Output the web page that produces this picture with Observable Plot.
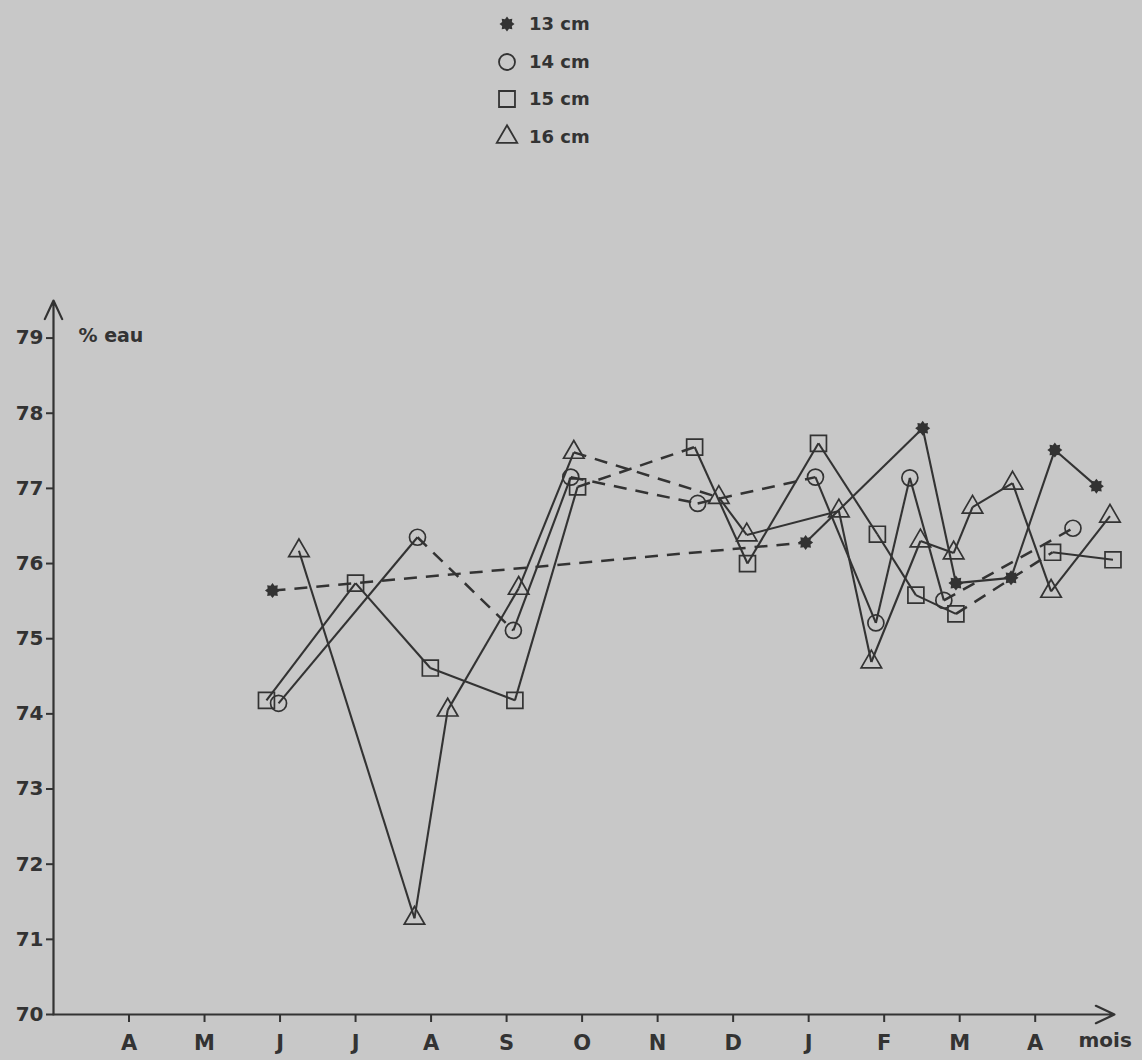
<!DOCTYPE html>
<html>
<head>
<meta charset="utf-8">
<script src="https://cdn.jsdelivr.net/npm/d3@7"></script>
<script src="https://cdn.jsdelivr.net/npm/@observablehq/plot@0.6"></script>
<style>
  html, body { margin: 0; padding: 0; background: #c8c8c8; }
  #wrap { width: 1142px; height: 1060px; background: #c8c8c8; overflow: hidden; }
  svg { display: block; }
</style>
</head>
<body>
<div id="wrap"></div>
<script>
// ---- data ----
const seriesNames = ["13 cm", "14 cm", "15 cm", "16 cm"];
const monthLabels = ["A", "M", "J", "J", "A", "S", "O", "N", "D", "J", "F", "M", "A"];
const monthTicks = [1, 2, 3, 4, 5, 6, 7, 8, 9, 10, 11, 12, 13];
const yTicks = [70, 71, 72, 73, 74, 75, 76, 77, 78, 79];

// month position (0 = origin of axis, 1 = first "A") and % water
const m13 = [2.90, 9.96, 11.51, 11.95, 12.68, 13.26, 13.81];
const v13 = [75.64, 76.28, 77.80, 75.74, 75.81, 77.51, 77.03];
const dash13 = [0];

const m14 = [2.98, 4.82, 6.09, 6.85, 8.53, 10.09, 10.89, 11.34, 11.79, 13.50];
const v14 = [74.14, 76.35, 75.11, 77.15, 76.80, 77.15, 75.21, 77.14, 75.51, 76.47];
const dash14 = [1, 3, 4, 8];

const m15 = [2.82, 4.00, 4.99, 6.11, 6.94, 8.49, 9.19, 10.13, 10.91, 11.42, 11.95, 13.23, 14.03];
const v15 = [74.18, 75.74, 74.61, 74.18, 77.02, 77.55, 76.00, 77.60, 76.39, 75.58, 75.33, 76.15, 76.05];
const dash15 = [4, 10];

const m16 = [3.25, 4.78, 5.22, 6.16, 6.89, 8.81, 9.18, 10.40, 10.83, 11.48, 11.92, 12.17, 12.70, 13.21, 13.99];
const v16 = [76.17, 71.28, 74.05, 75.67, 77.48, 76.88, 76.38, 76.70, 74.69, 76.30, 76.14, 76.75, 77.07, 75.63, 76.63];
const dash16 = [4];

const xDomain = [0, 14.05];
const yDomain = [70, 79.5];

// ---- styles ----
const ink = "#333333";
const font = "'DejaVu Sans', sans-serif";
const fontWeight = "bold";

// filled 8-point star ("asterisk" blob)
const starBlob = {
  draw(ctx, size) {
    const R = Math.sqrt(size / Math.PI);
    const r = R * 0.7;
    const n = 8;
    for (let i = 0; i < 2 * n; i++) {
      const a = (i * Math.PI) / n - Math.PI / 2;
      const rr = i % 2 === 0 ? R : r;
      const px = rr * Math.cos(a), py = rr * Math.sin(a);
      if (i === 0) ctx.moveTo(px, py); else ctx.lineTo(px, py);
    }
    ctx.closePath();
  }
};

const raw = [
  {name: seriesNames[0], m: m13, v: v13, dash: dash13, symbol: starBlob, r: 7.5, fill: ink, stroke: "none"},
  {name: seriesNames[1], m: m14, v: v14, dash: dash14, symbol: "circle", r: 8, fill: "none", stroke: ink},
  {name: seriesNames[2], m: m15, v: v15, dash: dash15, symbol: "square", r: 9, fill: "none", stroke: ink},
  {name: seriesNames[3], m: m16, v: v16, dash: dash16, symbol: "triangle", r: 7.6, fill: "none", stroke: ink}
];

const segments = [];
for (const s of raw) {
  for (let i = 0; i < s.m.length - 1; i++) {
    segments.push({series: s.name, x1: s.m[i], y1: s.v[i], x2: s.m[i + 1], y2: s.v[i + 1], dashed: s.dash.includes(i)});
  }
}
const pointsOf = s => s.m.map((m, i) => ({series: s.name, x: m, y: s.v[i]}));

// ---- legend (SVG above the plot) ----
const legendH = 160;
const legend = d3.create("svg").attr("width", 1142).attr("height", legendH);
const legendRowsY = [24, 62, 99, 137];
raw.forEach((s, i) => {
  const g = legend.append("g").attr("transform", `translate(507,${legendRowsY[i]})`);
  const sym = typeof s.symbol === "string"
    ? {circle: d3.symbolCircle, square: d3.symbolSquare, triangle: d3.symbolTriangle}[s.symbol]
    : s.symbol;
  g.append("path")
    .attr("d", d3.symbol(sym, s.r * s.r * Math.PI)())
    .attr("fill", s.fill).attr("stroke", s.stroke).attr("stroke-width", 1.8);
  legend.append("text")
    .attr("x", 529).attr("y", legendRowsY[i]).attr("dy", "0.36em")
    .attr("font-family", font).attr("font-weight", fontWeight).attr("font-size", 18).attr("fill", ink)
    .text(s.name);
});
document.getElementById("wrap").append(legend.node());

// ---- main chart ----
const chartH = 1060 - legendH;
const marks = [
  Plot.axisY({ticks: yTicks, tickSize: 7, tickPadding: 3, fontSize: 20, fontFamily: font, fontWeight, label: null, color: ink, strokeWidth: 2}),
  Plot.axisX({ticks: monthTicks, tickFormat: d => monthLabels[d - 1], tickSize: 8, tickPadding: 13, fontSize: 21, fontFamily: font, fontWeight, label: null, color: ink, strokeWidth: 2}),
  Plot.arrow([{x1: xDomain[0], y1: yDomain[0], x2: xDomain[1], y2: yDomain[0]}], {x1: "x1", y1: "y1", x2: "x2", y2: "y2", stroke: ink, strokeWidth: 2.2, headLength: 14, headAngle: 50}),
  Plot.arrow([{x1: xDomain[0], y1: yDomain[0], x2: xDomain[0], y2: yDomain[1]}], {x1: "x1", y1: "y1", x2: "x2", y2: "y2", stroke: ink, strokeWidth: 2.2, headLength: 14, headAngle: 50}),
  Plot.link(segments.filter(d => !d.dashed), {x1: "x1", y1: "y1", x2: "x2", y2: "y2", stroke: ink, strokeWidth: 2.1}),
  Plot.link(segments.filter(d => d.dashed), {x1: "x1", y1: "y1", x2: "x2", y2: "y2", stroke: ink, strokeWidth: 2.5, strokeDasharray: "13,9"}),
  ...raw.map(s => Plot.dot(pointsOf(s), {x: "x", y: "y", symbol: s.symbol, r: s.r, fill: s.fill, stroke: s.stroke, strokeWidth: 1.7})),
  Plot.text(["% eau"], {frameAnchor: "top-left", dx: 25, dy: 28, textAnchor: "start", fontSize: 19, fontFamily: font, fontWeight, fill: ink}),
  Plot.text(["mois"], {frameAnchor: "bottom-right", dx: -36, dy: 32, textAnchor: "start", fontSize: 20, fontFamily: font, fontWeight, fill: ink})
];

const chart = Plot.plot({
  width: 1142,
  height: chartH,
  marginLeft: 53,
  marginRight: 28,
  marginTop: 140,
  marginBottom: 46,
  x: {domain: xDomain, axis: null},
  y: {domain: yDomain, axis: null},
  style: {background: "#c8c8c8", color: ink, fontFamily: font, overflow: "visible"},
  marks
});
document.getElementById("wrap").append(chart);
</script>
</body>
</html>
